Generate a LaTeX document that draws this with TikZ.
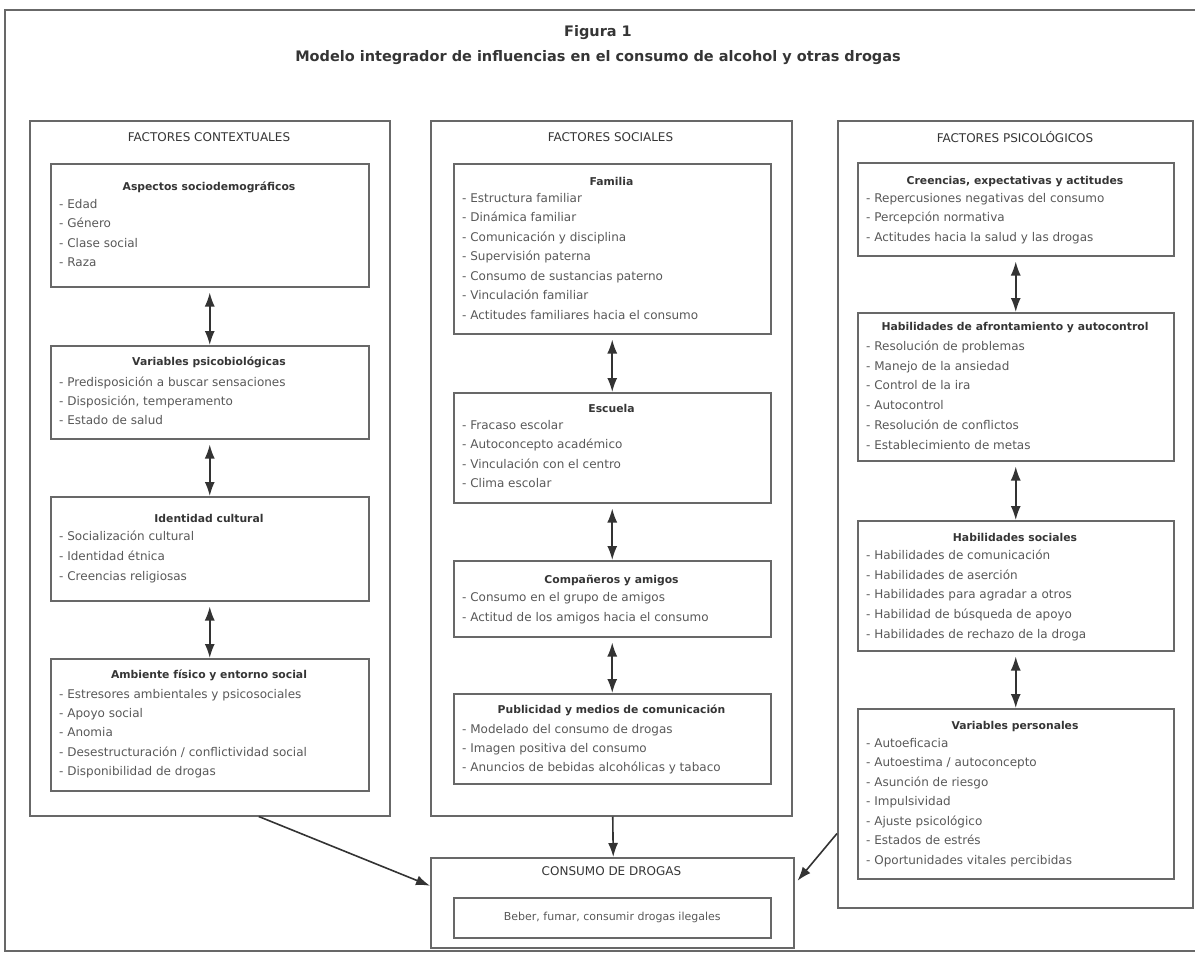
\documentclass[tikz,border=0pt]{standalone}
\usepackage{fontspec}
\setmainfont{DejaVu Sans}
\usetikzlibrary{arrows.meta,positioning}
\definecolor{linegray}{HTML}{686868}
\definecolor{textgray}{HTML}{585858}
\definecolor{headgray}{HTML}{353535}

\begin{document}
\begin{tikzpicture}[x=1pt,y=-1pt,
  frame/.style={draw=linegray, line width=1.5pt, inner sep=0pt, anchor=north west},
  ibox/.style={frame, minimum width=317pt},
  colhead/.style={font=\fontsize{12}{14}\selectfont, text=headgray, inner sep=0pt},
  boxhead/.style={font=\fontsize{10.8}{13}\selectfont\bfseries, text=headgray, inner sep=0pt},
  item/.style={font=\fontsize{12}{14}\selectfont, text=textgray, anchor=west, inner sep=0pt, text height=9pt, text depth=2.5pt},
  link/.style={draw=black!80, line width=1.6pt, {Latex[length=14pt,width=10pt]}-{Latex[length=14pt,width=10pt]}, shorten <=5pt},
  flow/.style={draw=black!80, line width=1.6pt, -{Latex[length=14pt,width=10pt]}}]
  \useasboundingbox (0,0) rectangle (1195,953);
  \draw[linegray, line width=1.5pt] (1195,10) -- (5,10) -- (5,951) -- (1195,951);

  % title
  \node[font=\fontsize{14.5}{16}\selectfont\bfseries, text=headgray] (fig) at (598,33) {Figura 1};
  \node[font=\fontsize{14.5}{16}\selectfont\bfseries, text=headgray] (title) at (598,58) {Modelo integrador de influencias en el consumo de alcohol y otras drogas};

  % columns
  \node[frame, minimum width=360pt, minimum height=695pt] (contextual) at (29,120) {};
  \node[frame, minimum width=361pt, minimum height=695pt] (social) at (430,120) {};
  \node[frame, minimum width=355pt, minimum height=787pt] (psico) at (837,120) {};
  \node[colhead] (contextual-t) at (209,137) {FACTORES CONTEXTUALES};
  \node[colhead] (social-t) at (610.5,137) {FACTORES SOCIALES};
  \node[colhead] (psico-t) at (1015,137) {FACTORES PSICOLÓGICOS};

  % factores contextuales
  \node[ibox, minimum width=318pt, minimum height=123pt] (aspectos) at (50,163) {};
  \node[boxhead] (aspectos-t) at (209,187) {Aspectos sociodemográficos};
  \foreach \t [count=\i from 0] in {Edad, Género, Clase social, Raza}
    \node[item] (aspectos-\i) at (59,{205+19.5*\i}) {- \t};

  \node[ibox, minimum width=318pt, minimum height=93pt] (variables) at (50,345) {};
  \node[boxhead] (variables-t) at (209,362) {Variables psicobiológicas};
  \foreach \t [count=\i from 0] in {Predisposición a buscar sensaciones, {Disposición, temperamento}, Estado de salud}
    \node[item] (variables-\i) at (59,{383+19*\i}) {- \t};

  \node[ibox, minimum width=318pt, minimum height=104pt] (identidad) at (50,496) {};
  \node[boxhead] (identidad-t) at (209,518) {Identidad cultural};
  \foreach \t [count=\i from 0] in {Socialización cultural, Identidad étnica, Creencias religiosas}
    \node[item] (identidad-\i) at (59,{537+20*\i}) {- \t};

  \node[ibox, minimum width=318pt, minimum height=132pt] (ambiente) at (50,658) {};
  \node[boxhead] (ambiente-t) at (209,675) {Ambiente físico y entorno social};
  \foreach \t [count=\i from 0] in {Estresores ambientales y psicosociales, Apoyo social, Anomia, Desestructuración / conflictividad social, Disponibilidad de drogas}
    \node[item] (ambiente-\i) at (59,{695+19.3*\i}) {- \t};

  % factores sociales
  \node[ibox, minimum height=170pt] (familia) at (453,163) {};
  \node[boxhead] (familia-t) at (611.5,181) {Familia};
  \foreach \t [count=\i from 0] in {Estructura familiar, Dinámica familiar, Comunicación y disciplina, Supervisión paterna, Consumo de sustancias paterno, Vinculación familiar, Actitudes familiares hacia el consumo}
    \node[item] (familia-\i) at (462,{199+19.5*\i}) {- \t};

  \node[ibox, minimum height=110pt] (escuela) at (453,392) {};
  \node[boxhead] (escuela-t) at (611.5,408) {Escuela};
  \foreach \t [count=\i from 0] in {Fracaso escolar, Autoconcepto académico, Vinculación con el centro, Clima escolar}
    \node[item] (escuela-\i) at (462,{426+19.4*\i}) {- \t};

  \node[ibox, minimum height=76pt] (companeros) at (453,560) {};
  \node[boxhead] (companeros-t) at (611.5,580) {Compañeros y amigos};
  \foreach \t [count=\i from 0] in {Consumo en el grupo de amigos, Actitud de los amigos hacia el consumo}
    \node[item] (companeros-\i) at (462,{598+20*\i}) {- \t};

  \node[ibox, minimum height=90pt] (publicidad) at (453,693) {};
  \node[boxhead] (publicidad-t) at (611.5,710) {Publicidad y medios de comunicación};
  \foreach \t [count=\i from 0] in {Modelado del consumo de drogas, Imagen positiva del consumo, Anuncios de bebidas alcohólicas y tabaco}
    \node[item] (publicidad-\i) at (462,{730+19*\i}) {- \t};

  % factores psicologicos
  \node[ibox, minimum width=316pt, minimum height=93pt] (creencias) at (857,162) {};
  \node[boxhead] (creencias-t) at (1015,182) {Creencias, expectativas y actitudes};
  \foreach \t [count=\i from 0] in {Repercusiones negativas del consumo, Percepción normativa, Actitudes hacia la salud y las drogas}
    \node[item] (creencias-\i) at (866,{199+19.5*\i}) {- \t};

  \node[ibox, minimum width=316pt, minimum height=148pt] (afrontamiento) at (857,312) {};
  \node[boxhead] (afrontamiento-t) at (1015,328) {Habilidades de afrontamiento y autocontrol};
  \foreach \t [count=\i from 0] in {Resolución de problemas, Manejo de la ansiedad, Control de la ira, Autocontrol, Resolución de conflictos, Establecimiento de metas}
    \node[item] (afrontamiento-\i) at (866,{347+19.8*\i}) {- \t};

  \node[ibox, minimum width=316pt, minimum height=130pt] (habsoc) at (857,520) {};
  \node[boxhead] (habsoc-t) at (1015,537) {Habilidades sociales};
  \foreach \t [count=\i from 0] in {Habilidades de comunicación, Habilidades de aserción, Habilidades para agradar a otros, Habilidad de búsqueda de apoyo, Habilidades de rechazo de la droga}
    \node[item] (habsoc-\i) at (866,{556+19.8*\i}) {- \t};

  \node[ibox, minimum width=316pt, minimum height=170pt] (personales) at (857,708) {};
  \node[boxhead] (personales-t) at (1015,727) {Variables personales};
  \foreach \t [count=\i from 0] in {Autoeficacia, Autoestima / autoconcepto, Asunción de riesgo, Impulsividad, Ajuste psicológico, Estados de estrés, Oportunidades vitales percibidas}
    \node[item] (personales-\i) at (866,{744+19.5*\i}) {- \t};

  % consumo
  \node[frame, minimum width=363pt, minimum height=90pt] (consumo) at (430,857) {};
  \node[colhead] (consumo-t) at (611.5,871) {CONSUMO DE DROGAS};
  \node[ibox, minimum height=40pt] (conducta) at (453,897) {};
  \node[font=\fontsize{11}{13}\selectfont, text=textgray, inner sep=0pt] (conducta-t) at (conducta.center) {Beber, fumar, consumir drogas ilegales};

  % conexiones
  \draw[link] (aspectos.south) -- (variables.north);
  \draw[link] (variables.south) -- (identidad.north);
  \draw[link] (identidad.south) -- (ambiente.north);
  \draw[link] (familia.south) -- (escuela.north);
  \draw[link] (escuela.south) -- (companeros.north);
  \draw[link] (companeros.south) -- (publicidad.north);
  \draw[link] (creencias.south) -- (afrontamiento.north);
  \draw[link] (afrontamiento.south) -- (habsoc.north);
  \draw[link] (habsoc.south) -- (personales.north);
  \draw[flow] ([xshift=1.5pt]social.south) -- ([xshift=1pt]consumo.north);
  \draw[flow] ([xshift=49pt]contextual.south) -- ([yshift=17pt]consumo.west);
  \draw[flow] ([yshift=75pt]psico.south west) -- ([xshift=3pt,yshift=22pt]consumo.east);
\end{tikzpicture}
\end{document}
